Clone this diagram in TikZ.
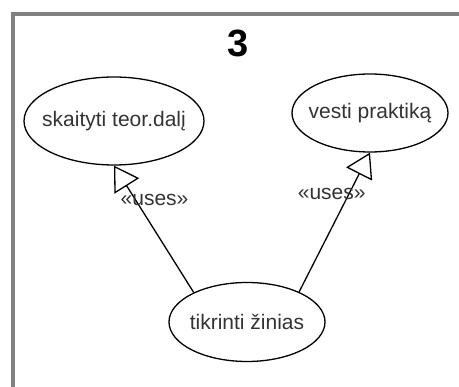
\documentclass[tikz,border=0pt]{standalone}
\usepackage{fontspec}
\setmainfont{Liberation Sans}
\usetikzlibrary{arrows.meta,shapes.geometric}

\begin{document}
\begin{tikzpicture}[x=1pt,y=-1pt,
    usecase/.style={draw,ellipse,line width=1.3pt,inner sep=0pt,
      label={[font=\fontsize{21}{24}\selectfont,text=black!80]center:#1}},
    uses/.style={-{Triangle[open,length=24pt,width=29pt]},line width=1.3pt}]
      \useasboundingbox (0,0) rectangle (459,387);
      \draw[gray,line width=3.5pt] (459,14) -- (13,14) -- (13,387);
      \draw
        (238,43) node[font=\fontsize{38}{40}\selectfont\bfseries] (nr){3}
        (114,121) node[usecase={skaityti teor.dalį},minimum width=180pt,minimum height=88pt] (skaityti){}
        (370,113) node[usecase={vesti praktiką},minimum width=156pt,minimum height=78pt] (vesti){}
        (247,322) node[usecase={tikrinti žinias},minimum width=156pt,minimum height=79pt] (tikrinti){};
      \begin{scope}[uses,font=\fontsize{21}{24}\selectfont,text=black!80]
        \draw (tikrinti.151) to node[pos=0.73,xshift=19pt] {«uses»} (skaityti.south);
        \draw (tikrinti.30) to node[pos=0.70,xshift=-17pt] {«uses»} (vesti.south);
      \end{scope}
    \end{tikzpicture}
\end{document}
